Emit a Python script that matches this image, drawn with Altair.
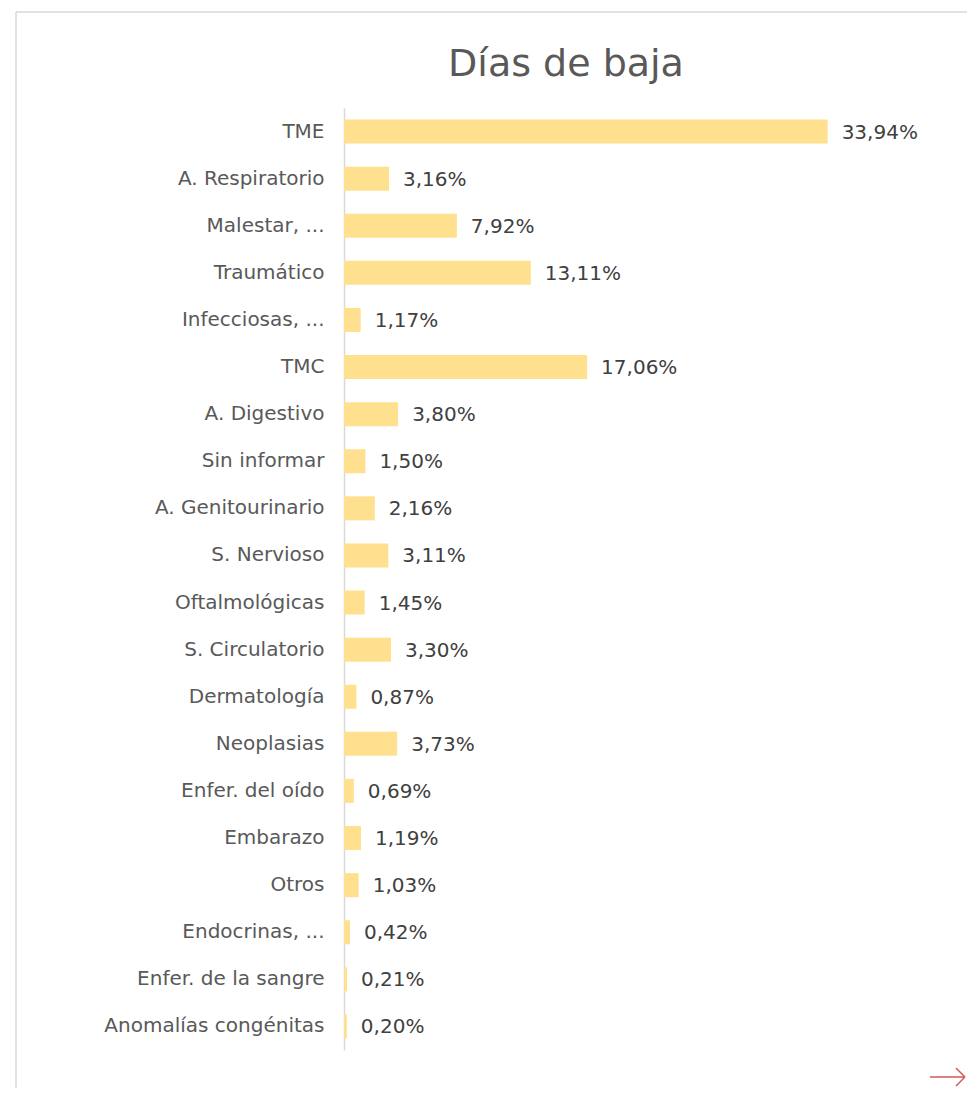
import altair as alt
import pandas as pd

categories = ["TME", "A. Respiratorio", "Malestar, ...", "Traumático", "Infecciosas, ...",
              "TMC", "A. Digestivo", "Sin informar", "A. Genitourinario", "S. Nervioso",
              "Oftalmológicas", "S. Circulatorio", "Dermatología", "Neoplasias",
              "Enfer. del oído", "Embarazo", "Otros", "Endocrinas, ...",
              "Enfer. de la sangre", "Anomalías congénitas"]
values = [33.94, 3.16, 7.92, 13.11, 1.17, 17.06, 3.80, 1.50, 2.16, 3.11,
          1.45, 3.30, 0.87, 3.73, 0.69, 1.19, 1.03, 0.42, 0.21, 0.20]
title_text = ["Días de baja"]

df = pd.DataFrame({
    "cat": categories,
    "val": values,
    "label": [f"{v:.2f}".replace(".", ",") + "%" for v in values],
})

FONT = "DejaVu Sans"
W, H = 570, 942

yenc = alt.Y("cat:N", sort=categories, title=None,
             scale=alt.Scale(paddingInner=0.49, paddingOuter=0.245),
             axis=alt.Axis(domainColor="#D9D9D9", domainWidth=1.5, ticks=False,
                           labelPadding=20, labelFont=FONT, labelFontSize=20,
                           labelColor="#595959", labelLimit=400))
xenc = alt.X("val:Q", scale=alt.Scale(domain=[0, 40]), axis=None)

bars = alt.Chart(df).mark_bar(color="#FFE08F").encode(x=xenc, y=yenc)
texts = alt.Chart(df).mark_text(align="left", baseline="middle", dx=14, dy=1,
                                font=FONT, fontSize=20, color="#404040").encode(
    x=xenc, y=alt.Y("cat:N", sort=categories), text="label:N")

one = pd.DataFrame({"t": title_text})
title = alt.Chart(one).mark_text(font=FONT, fontSize=38, color="#595959",
                                 align="center", baseline="alphabetic").encode(
    x=alt.value(222), y=alt.value(-32), text="t:N")

border_left = alt.Chart(one).mark_rule(color="#D9D9D9", strokeWidth=1.5).encode(
    x=alt.value(-328), y=alt.value(-96), y2=alt.value(1100))
border_top = alt.Chart(one).mark_rule(color="#D9D9D9", strokeWidth=1.5).encode(
    x=alt.value(-328), x2=alt.value(700), y=alt.value(-96))

arrow_line = alt.Chart(one).mark_rule(color="#D0585A", strokeWidth=1.5).encode(
    x=alt.value(586), x2=alt.value(621), y=alt.value(969))
arrow_h1 = alt.Chart(one).mark_rule(color="#D0585A", strokeWidth=1.5).encode(
    x=alt.value(612), x2=alt.value(621), y=alt.value(960), y2=alt.value(969))
arrow_h2 = alt.Chart(one).mark_rule(color="#D0585A", strokeWidth=1.5).encode(
    x=alt.value(612), x2=alt.value(621), y=alt.value(978), y2=alt.value(969))

chart = alt.layer(border_left, border_top, bars, texts, title,
                  arrow_line, arrow_h1, arrow_h2).properties(
    width=W, height=H,
    autosize=alt.AutoSizeParams(type="none"),
    padding={"left": 336, "top": 100, "right": 53, "bottom": 38},
).configure_view(stroke=None)

chart.save("out.html", embed_options={"renderer": "svg", "actions": False})
